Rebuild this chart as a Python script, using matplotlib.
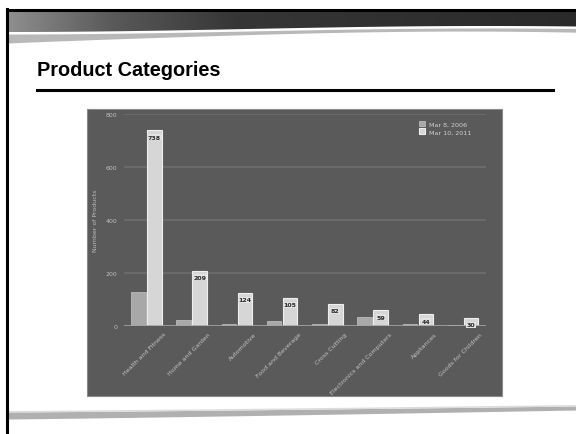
import numpy as np
import matplotlib.pyplot as plt
from matplotlib.patches import Rectangle, Polygon
from matplotlib.colors import LinearSegmentedColormap

categories = ['Health and Fitness', 'Home and Garden', 'Automotive', 'Food and Beverage',
              'Cross Cutting', 'Electronics and Computers', 'Appliances', 'Goods for Children']
values_2006 = [127, 22, 8, 20, 8, 33, 8, 2]
values_2011 = [738, 209, 124, 105, 82, 59, 44, 30]
series_labels = ['Mar 8, 2006', 'Mar 10, 2011']
yticks = [0, 200, 400, 600, 800]

W, H = 576, 435
fig = plt.figure(figsize=(5.76, 4.35), dpi=100)
fig.patch.set_facecolor('white')

# slide background, drawn in pixel coordinates
bg = fig.add_axes([0, 0, 1, 1])
bg.set_xlim(0, W)
bg.set_ylim(H, 0)
bg.axis('off')

# dark header band with a curved lower edge
xs = np.linspace(8, W, 200)
band_bottom = 30 + 3 * np.cos(np.pi * (xs - 8) / 480)
band = Polygon(np.vstack([np.column_stack([xs, band_bottom]),
                          [[W, 12], [8, 12]]]), closed=True, fc='none', ec='none')
bg.add_patch(band)
header_cmap = LinearSegmentedColormap.from_list(
    'header', [(0, '#8e8e8e'), (0.18, '#5a5a5a'), (0.4, '#363636'), (1, '#2a2a2a')])
img = bg.imshow(np.linspace(0, 1, 256)[None, :], cmap=header_cmap, aspect='auto',
                extent=[8, W, 34, 12], zorder=1)
img.set_clip_path(band)
bg.set_xlim(0, W)
bg.set_ylim(H, 0)

# gray swoosh under the header
thick = 2 + 7 * np.exp(-(xs - 8) / 160) + 1.5 * (xs / W) ** 4
bg.fill_between(xs, band_bottom + 2, band_bottom + 2 + thick, color='#b8b8b8', lw=0, zorder=1)
bg.plot([7, W], [11, 11], color='black', lw=2.2, zorder=2)
bg.plot([7, 7], [10, H], color='black', lw=2.2, zorder=2)

# footer swoosh
fb = 413 - 6 * ((xs - 8) / 568) ** 1.2
fthick = 7 - 3 * (xs - 8) / 568
bg.fill_between(xs, fb, fb + fthick, color='#b0b0b0', lw=0, zorder=1)
bg.fill_between(xs, fb - 1.5, fb, color='#dcdcdc', lw=0, zorder=1)

# title and rule
bg.text(37, 70, 'Product Categories', fontsize=14.3, fontweight='bold',
        family='Liberation Sans', va='center', ha='left', color='black')
bg.plot([37, 553], [91, 91], color='black', lw=2.2)

# chart panel
bg.add_patch(Rectangle((87, 110), 415, 287, fc='#5a5a5a', ec='#8a8a8a', lw=0.8, zorder=1))

ax = fig.add_axes([124 / W, (H - 327) / H, 362 / W, 212 / H])
ax.set_facecolor('none')
x = np.arange(len(categories))
ax.set_xlim(-0.5, len(categories) - 0.5)
ax.set_ylim(0, 800)

for y in yticks[1:]:
    ax.axhline(y, color='#6c6c6c', lw=1.3, zorder=0)

ax.bar(x - 0.18, values_2006, 0.32, color='#a8a8a8', edgecolor='#bababa',
       lw=0.6, zorder=2, label=series_labels[0])
ax.bar(x + 0.17, values_2011, 0.32, color='#d6d6d6', edgecolor='#efefef',
       lw=0.8, zorder=2, label=series_labels[1])
ax.axhline(0, color='#a4a4a4', lw=1.2, zorder=3)

for xi, v in zip(x, values_2011):
    ax.annotate(str(v), (xi + 0.17, v), xytext=(0, -3), textcoords='offset points',
                ha='center', va='top', fontsize=4.5, fontweight='bold', color='#2a2a2a',
                zorder=4,
                bbox=dict(boxstyle='square,pad=0.1', fc='#e2e2e2', ec='none'))

for xi, c in zip(x, categories):
    ax.annotate(c, (xi + 0.4, 0), xytext=(0, -5), textcoords='offset points',
                rotation=45, rotation_mode='anchor', ha='right', va='center',
                fontsize=4.5, color='#c4c4c4', annotation_clip=False)

for s in ax.spines.values():
    s.set_visible(False)
ax.set_xticks([])
ax.set_yticks(yticks)
ax.tick_params(axis='y', length=0, pad=5, labelsize=4.5, labelcolor='#bdbdbd')
ax.set_ylabel('Number of Products', fontsize=4.5, color='#bdbdbd')
ax.yaxis.set_label_coords(-0.072, 0.5)

ax.legend(loc='upper left', bbox_to_anchor=(419 / W, 1 - 122 / H),
          bbox_transform=fig.transFigure, frameon=False, fontsize=4.6,
          labelcolor='#d0d0d0', handlelength=0.9, handleheight=0.9,
          handletextpad=0.6, labelspacing=0.25, borderpad=0, borderaxespad=0)

fig.savefig('out.png', dpi=100)
